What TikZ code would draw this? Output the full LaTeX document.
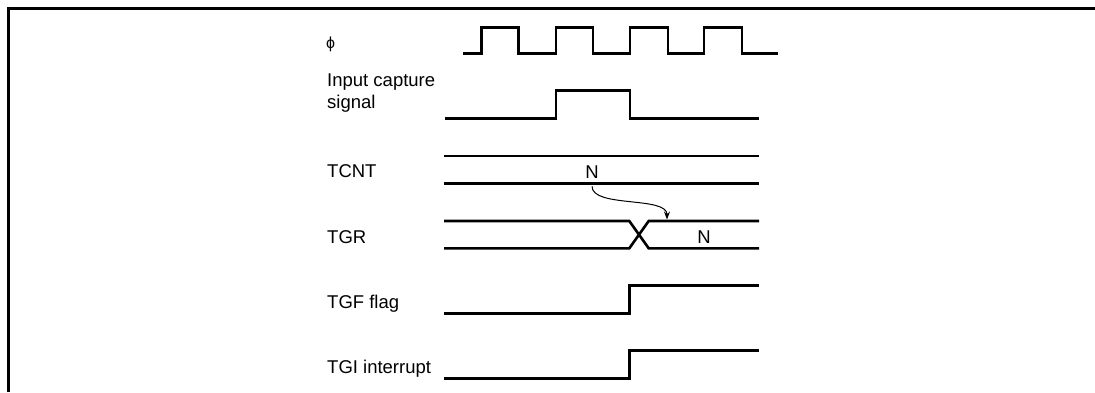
\documentclass[tikz,border=0pt]{standalone}
\usepackage{fontspec}
\setmainfont{Liberation Sans}
\usetikzlibrary{arrows.meta}
\begin{document}
\begin{tikzpicture}[x=1pt,y=-1pt,
  sig/.style={line width=2.6pt,line join=miter},
  lbl/.style={anchor=base west,inner sep=0pt,font=\fontsize{18.5}{22}\selectfont},
  val/.style={inner sep=0pt,font=\fontsize{18.5}{22}\selectfont},
  frame/.style={line width=3pt}]
\useasboundingbox (0,0) rectangle (1095,392);
% frame
\draw[frame] (8,392) -- (8,8) -- (1095,8);
% labels
\node[lbl] (lphi) at (326,48) {\fontsize{16}{18}\selectfont ϕ};
\node[lbl,align=left] (lin) at (327,108.5) {Input capture\\signal};
\node[lbl] (ltcnt) at (327,177) {TCNT};
\node[lbl] (ltgr) at (327,243) {TGR};
\node[lbl] (ltgf) at (327,308) {TGF flag};
\node[lbl] (ltgi) at (327,373) {TGI interrupt};
% clock
\draw[sig] (463,53.3) -- (481.7,53.3) -- (481.7,27.3) -- (518.7,27.3) -- (518.7,53.3)
  -- (556,53.3) -- (556,27.3) -- (593,27.3) -- (593,53.3)
  -- (630,53.3) -- (630,27.3) -- (668,27.3) -- (668,53.3)
  -- (704,53.3) -- (704,27.3) -- (742,27.3) -- (742,53.3) -- (778,53.3);
% input capture
\draw[sig] (445,118.3) -- (556,118.3) -- (556,90.7) -- (630,90.7) -- (630,118.3) -- (759,118.3);
% TCNT
\draw[sig] (444,156) -- (759,156);
\draw[sig] (444,183.7) -- (759,183.7);
\node[val] (ntcnt) at (592,171.7) {N};
% TGR
\draw[sig] (444,221) -- (629.3,221) -- (648.7,248.3) -- (759,248.3);
\draw[sig] (444,248.3) -- (629.3,248.3) -- (648.7,221) -- (759,221);
\node[val] (ntgr) at (704,236.7) {N};
\coordinate (tgrtop) at (667,219.5);
\draw[line width=1pt,-{Stealth[length=8pt,width=6pt]}] (ntcnt.south) ++(0,8) .. controls (592,208) and (667,196) .. (tgrtop);
% TGF
\draw[sig] (444,313.3) -- (629.3,313.3) -- (629.3,285.7) -- (759,285.7);
% TGI
\draw[sig] (444,378.3) -- (629.3,378.3) -- (629.3,350.7) -- (759,350.7);
\end{tikzpicture}
\end{document}
